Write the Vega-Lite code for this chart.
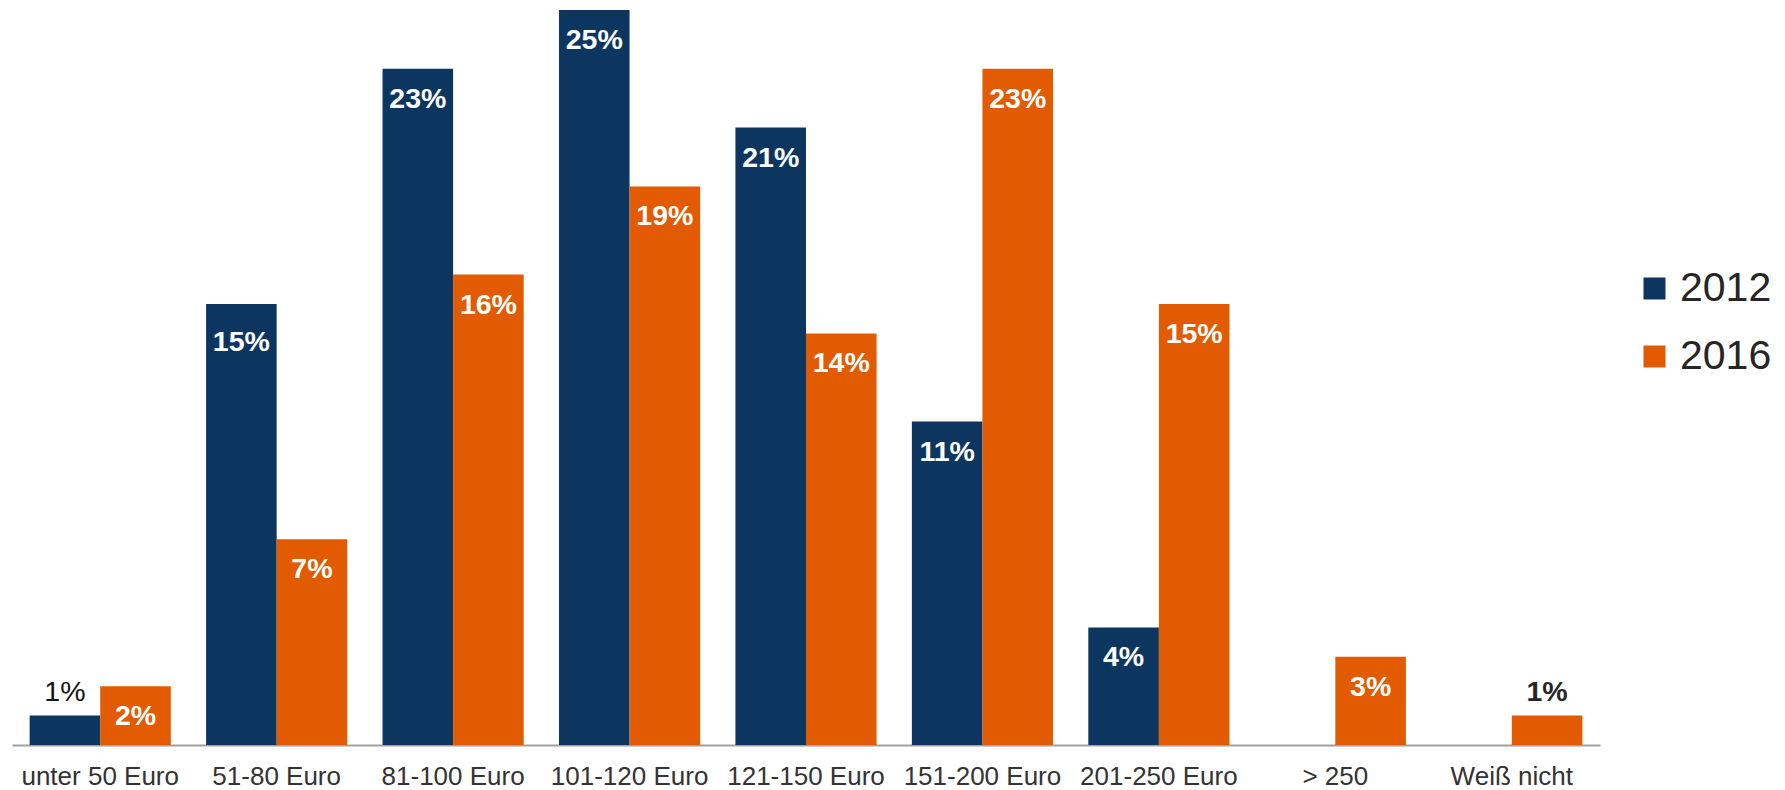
{
  "$schema": "https://vega.github.io/schema/vega-lite/v6.json",
  "autosize": "none",
  "width": 1588,
  "height": 735,
  "padding": {"left": 12, "top": 10, "right": 185, "bottom": 45},
  "background": "white",
  "config": {
    "view": {"stroke": null},
    "font": "Liberation Sans"
  },
  "data": {
    "values": [
      {"cat": "unter 50 Euro", "year": "2012", "value": 1},
      {"cat": "unter 50 Euro", "year": "2016", "value": 2},
      {"cat": "51-80 Euro", "year": "2012", "value": 15},
      {"cat": "51-80 Euro", "year": "2016", "value": 7},
      {"cat": "81-100 Euro", "year": "2012", "value": 23},
      {"cat": "81-100 Euro", "year": "2016", "value": 16},
      {"cat": "101-120 Euro", "year": "2012", "value": 25},
      {"cat": "101-120 Euro", "year": "2016", "value": 19},
      {"cat": "121-150 Euro", "year": "2012", "value": 21},
      {"cat": "121-150 Euro", "year": "2016", "value": 14},
      {"cat": "151-200 Euro", "year": "2012", "value": 11},
      {"cat": "151-200 Euro", "year": "2016", "value": 23},
      {"cat": "201-250 Euro", "year": "2012", "value": 4},
      {"cat": "201-250 Euro", "year": "2016", "value": 15},
      {"cat": "> 250", "year": "2016", "value": 3},
      {"cat": "Weiß nicht", "year": "2016", "value": 1}
    ]
  },
  "transform": [{"calculate": "datum.value + '%'", "as": "label"}],
  "encoding": {
    "x": {
      "field": "cat",
      "type": "nominal",
      "sort": null,
      "scale": {"paddingInner": 0.2, "paddingOuter": 0.1},
      "axis": {
        "title": null,
        "labelAngle": 0,
        "labelFontSize": 26,
        "labelColor": "#333333",
        "labelPadding": 18,
        "ticks": false,
        "domainColor": "#a0a0a0",
        "domainWidth": 2
      }
    },
    "xOffset": {"field": "year", "type": "nominal", "scale": {"domain": ["2012", "2016"]}},
    "y": {
      "field": "value",
      "type": "quantitative",
      "scale": {"domain": [0, 25], "nice": false},
      "axis": null
    }
  },
  "layer": [
    {
      "mark": {"type": "bar"},
      "encoding": {
        "color": {
          "field": "year",
          "type": "nominal",
          "scale": {"domain": ["2012", "2016"], "range": ["#0c3660", "#e35b00"]},
          "legend": {
            "title": null,
            "orient": "none",
            "legendX": 1622,
            "legendY": 258,
            "padding": 0,
            "symbolType": "square",
            "symbolSize": 484,
            "symbolStrokeWidth": 0,
            "labelFontSize": 41,
            "labelColor": "#262626",
            "labelOffset": 5,
            "rowPadding": 26
          }
        }
      }
    },
    {
      "transform": [{"filter": "datum.value >= 2 && !(datum.year == '2012' && datum.value == 15)"}],
      "mark": {"type": "text", "color": "white", "fontWeight": "bold", "fontSize": 28.5, "baseline": "middle", "dy": 30},
      "encoding": {"text": {"field": "label"}}
    },
    {
      "transform": [{"filter": "datum.year == '2012' && datum.value == 15"}],
      "mark": {"type": "text", "color": "white", "fontWeight": "bold", "fontSize": 28.5, "baseline": "middle", "dy": 38},
      "encoding": {"text": {"field": "label"}}
    },
    {
      "transform": [{"filter": "datum.value < 2 && datum.year == '2012'"}],
      "mark": {"type": "text", "color": "#111111", "fontSize": 28.5, "baseline": "middle", "dy": -24},
      "encoding": {"text": {"field": "label"}}
    },
    {
      "transform": [{"filter": "datum.value < 2 && datum.year == '2016'"}],
      "mark": {"type": "text", "color": "#262626", "fontWeight": "bold", "fontSize": 28.5, "baseline": "middle", "dy": -24},
      "encoding": {"text": {"field": "label"}}
    }
  ]
}
